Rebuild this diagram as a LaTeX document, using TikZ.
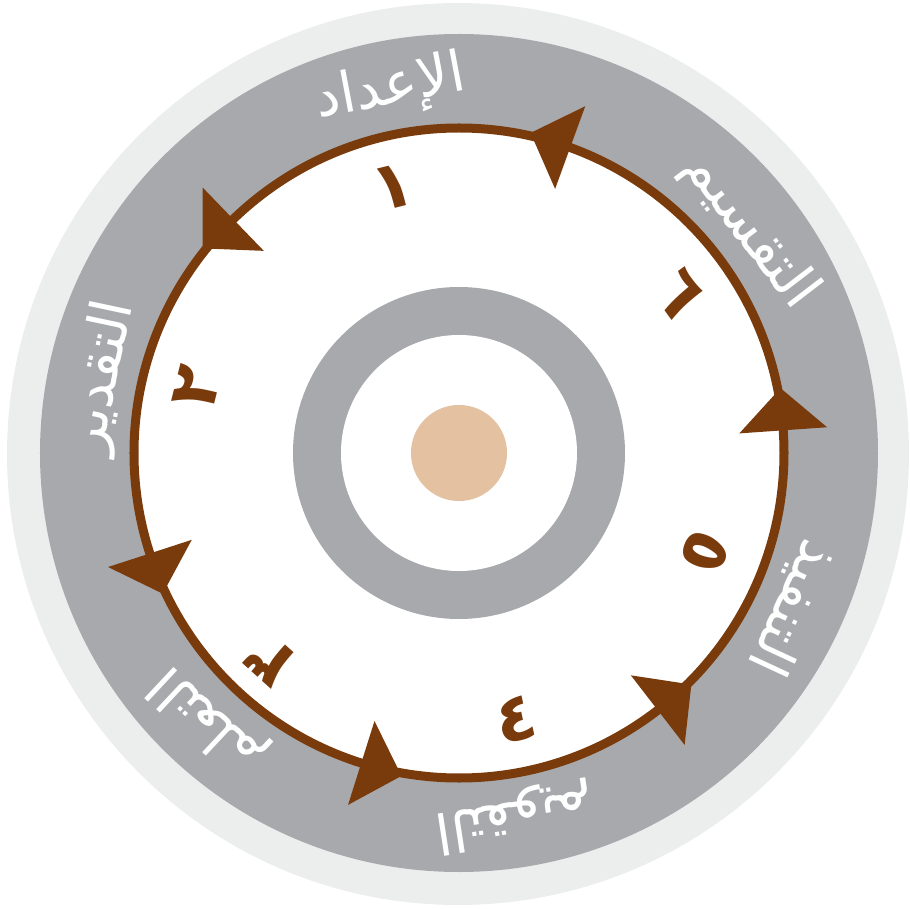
\documentclass[tikz,border=0pt]{standalone}
\usepackage{fontspec}
\TeXXeTstate=1
\newfontfamily\arabicfont[Script=Arabic]{DejaVu Sans}
\newfontfamily\arabicbold[Script=Arabic]{DejaVu Sans Bold}
\definecolor{ringlight}{HTML}{ECEDED}
\definecolor{ringgray}{HTML}{A7A9AC}
\definecolor{cyclebrown}{HTML}{7A3B0C}
\definecolor{coretan}{HTML}{E4C1A1}
\tikzset{
  steplabel/.style={text=white, font=\arabicfont\fontsize{16}{19}\selectfont, inner sep=0pt},
  stepnum/.style={text=cyclebrown, font=\arabicbold\fontsize{19}{22}\selectfont, inner sep=0pt},
  arrowhead/.style={fill=cyclebrown}
}
\begin{document}
\begin{tikzpicture}[x=0.01cm,y=0.01cm]
\useasboundingbox (-459,-456) rectangle (450,453);
\fill[ringlight] (-1,-1) circle (451);
\fill[ringgray] (0,0) circle (419);
\fill[white] (0,0) circle (325);
\draw[cyclebrown, line width=0.09cm] (0,0) circle (325);
\fill[ringgray] (0,0) circle (166);
\fill[white] (0,0) circle (118);
\node[circle, fill=coretan, minimum size=0.96cm, inner sep=0pt] (core) at (0,0) {};
% arrow heads along the cycle (counter-clockwise)
\foreach \a in {4,70,134,198,252.5,307.7}{
  \pgfmathsetmacro{\tip}{\a+7.4}
  \fill[arrowhead] (\a:281) -- (\a:369) -- (\tip:328) -- cycle;
}
% step labels
\node[steplabel, rotate=10.7] (l1) at (100.7:370) {\beginR الإعداد\endR};
\node[steplabel, rotate=-52.6] (l6) at (37.4:366) {\beginR التقسيم\endR};
\node[steplabel, rotate=-114.9] (l5) at (-24.9:368) {\beginR التنفيذ\endR};
\node[steplabel, rotate=-171.3] (l4) at (-81.3:368) {\beginR التقويم\endR};
\node[steplabel, rotate=136.9] (l3) at (226.9:366) {\beginR التعلم\endR};
\node[steplabel, rotate=78] (l2) at (168:364) {\beginR التقدير\endR};
% step numbers
\node[stepnum, rotate=14] (n1) at (104:274) {١};
\node[stepnum, rotate=76] (n2) at (166:270) {٢};
\node[stepnum, rotate=138] (n3) at (228:280) {٣};
\node[stepnum, rotate=12] (n4) at (282:272) {٤};
\node[stepnum, rotate=-112] (n5) at (338:266) {٥};
\node[stepnum, rotate=-54] (n6) at (36:272) {٦};
\end{tikzpicture}
\end{document}
